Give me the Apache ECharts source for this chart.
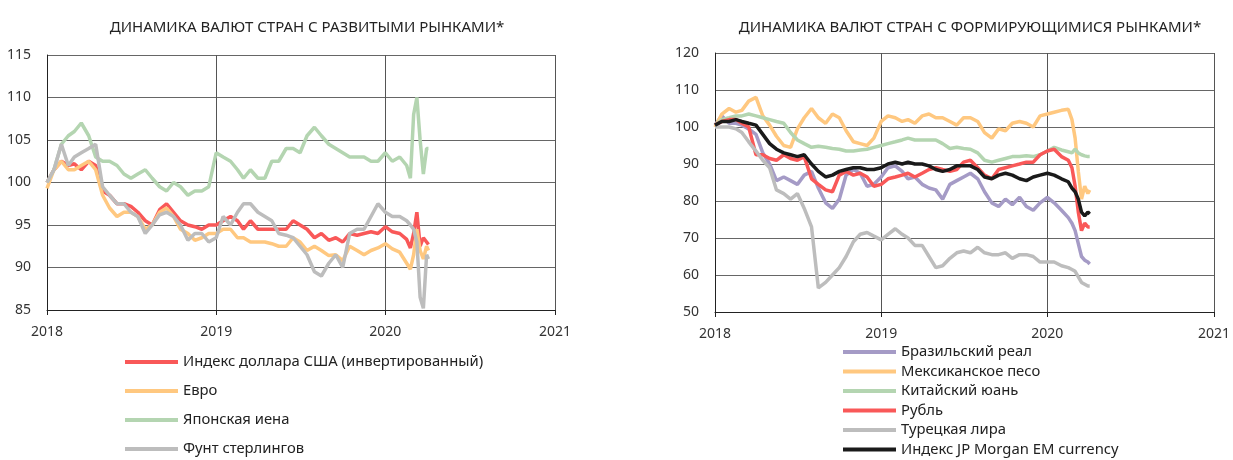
<!DOCTYPE html>
<html>
<head>
<meta charset="utf-8">
<script src="https://cdn.jsdelivr.net/npm/echarts@6/dist/echarts.min.js"></script>
<style>
  html, body { margin: 0; padding: 0; background: #fff; }
  #chart { width: 1233px; height: 460px; }
</style>
</head>
<body>
<div id="chart"></div>
<script>
// даты (полумесячные точки, чаще в феврале-апреле 2020)
var dates = [
  '2018-01-01','2018-01-16','2018-02-01','2018-02-16','2018-03-01','2018-03-16','2018-04-01','2018-04-16',
  '2018-05-01','2018-05-16','2018-06-01','2018-06-16','2018-07-01','2018-07-16','2018-08-01','2018-08-16',
  '2018-09-01','2018-09-16','2018-10-01','2018-10-16','2018-11-01','2018-11-16','2018-12-01','2018-12-16',
  '2019-01-01','2019-01-16','2019-02-01','2019-02-16','2019-03-01','2019-03-16','2019-04-01','2019-04-16',
  '2019-05-01','2019-05-16','2019-06-01','2019-06-16','2019-07-01','2019-07-16','2019-08-01','2019-08-16',
  '2019-09-01','2019-09-16','2019-10-01','2019-10-16','2019-11-01','2019-11-16','2019-12-01','2019-12-16',
  '2020-01-01','2020-01-16','2020-02-01','2020-02-16','2020-02-24','2020-03-02','2020-03-09','2020-03-16',
  '2020-03-23','2020-03-30','2020-04-03'
];
var yearTicks = ['2018', '2019', '2020', '2021'];

// развитые рынки
var usdInv = [100,101.5,102.5,102,102.2,101.5,102.5,102,99,98.5,97.5,97.5,97.2,96.5,95.5,95,
  96.8,97.5,96.5,95.5,95,94.8,94.5,95,95,95.5,96,95.5,94.5,95.5,94.5,94.5,
  94.5,94.5,94.5,95.5,95,94.5,93.5,94,93.2,93.5,93,94,93.8,94,94.2,94,
  94.8,94.2,94,93.3,92.3,94,96.5,92.5,93.5,93,92.7];
var eur = [99.3,101.5,102.5,101.5,101.5,102,102.5,101.5,98.5,97,96,96.5,96.5,96,94.5,95,
  96.5,97,96,94.5,94,93.2,93.5,94,94,94.5,94.5,93.5,93.5,93,93,93,
  92.8,92.5,92.5,93.5,93,92,92.5,92,91.4,91.5,90.8,92.5,92,91.5,92,92.3,
  92.8,92.2,91.8,90.5,89.8,91.5,94.5,92,91,92.5,92];
var jpy = [100,101.5,104.5,105.5,106,107,105.5,103,102.5,102.5,102,101,100.5,101,101.5,100.5,
  99.5,99,100,99.5,98.5,99,99,99.5,103.5,103,102.5,101.5,100.5,101.5,100.5,100.5,
  102.5,102.5,104,104,103.5,105.5,106.5,105.5,104.5,104,103.5,103,103,103,102.5,102.5,
  103.5,102.5,103,102,100.5,108,110,105,101,104,104];
var gbp = [100,101.5,104.5,102,103,103.5,104,104.5,99.5,98.5,97.5,97.5,96.5,96,94,95,
  96.2,96.5,96,95,93.2,94,94,93,93.5,96,95,96.5,97.5,97.5,96.5,96,
  95.5,94,93.8,93.5,92.5,91.5,89.5,89,90.5,91.5,90,94,94.5,94.5,96,97.5,
  96.5,96,96,95.5,95,94.5,93,86.5,85.2,91.5,91];

// формирующиеся рынки
var brl = [100.5,103,101,101,100.5,99.5,98,93,90,85.5,86.5,85.5,84.5,87,88,83.5,
  79.5,78,80.5,87,88.5,87.5,84,84.5,86.5,89,89.5,88,86,86.5,84.5,83.5,
  83,80.5,84.5,85.5,86.5,87.5,86,82.5,79.5,78.5,80.5,79,81,78.5,77.5,79.5,
  81,79.5,77.5,75.5,74,72,68.5,65,64,63.5,63];
var mxn = [100,103.5,105,104,104.5,107,108,103,100.5,97.5,95,94.5,99.5,102.5,105,102.5,
  101,103.5,102.5,99,96,95.5,95,97,101.5,103,102.5,101.5,102,101,103,103.5,
  102.5,102.5,101.5,100.5,102.5,102.5,101.5,98.5,97,99.5,99,101,101.5,101,100,103,
  103.5,104,104.5,104.8,102,97,88,80.5,84,82,83];
var cny = [100.5,102,102.5,103,103,103.5,103,102.5,102,101.5,101,98.5,96.5,95.5,94.5,94.8,
  94.5,94.2,94,93.5,93.5,93.8,94,94.5,95,95.5,96,96.5,97,96.5,96.5,96.5,
  96.5,95.5,94.2,94.5,94.2,94,93,91,90.5,91,91.5,92,92,92.2,92,92.5,
  93.5,94.5,93.8,93.3,93,94,93,92.5,92.2,92,92];
var rub = [100.5,101.5,102,102,101,100,92.5,92.5,91.5,91,92.5,91.5,91,92,86,84.5,
  83,82.5,87,88,87,87.5,86.5,84,84.5,86,86.5,87,87.5,86.5,87.5,88.5,
  89,88.5,88,88.5,90.5,91,89,87,86,88.5,89,89.5,90,90.5,90.5,92.5,
  93.5,94,92,91,89,84,77,72,74,73,73];
var tryLira = [100,100,100,99.5,98.5,96,93.5,91,89,83,82,80.5,82,78,73,56.5,
  58,60,62,65,69,71,71.5,70.5,69.5,71,72.5,71,70,68,68,65,
  62,62.5,64.5,66,66.5,66,67.5,66,65.5,65.5,66,64.5,65.5,65.5,65,63.5,
  63.5,63.5,62.5,62,61.5,61,59.5,58,57.5,57,57];
var jpmEm = [100.5,101.5,101.5,102,101.5,101,100.5,98,95.5,94,93,92.5,92,92.5,90,88,
  86.5,87,88,88.5,89,89,88.5,88.5,89,90,90.5,90,90.5,90,90,89.5,
  88.5,88,88.5,89.5,89.5,89.5,88.5,86.5,86,87,87.5,87,86,85.5,86.5,87,
  87.5,87,86,85.2,83.5,82.5,80.5,77,76,77,76.5];

var leftNames = ['Индекс доллара США (инвертированный)', 'Евро', 'Японская иена', 'Фунт стерлингов'];
var rightNames = ['Бразильский реал', 'Мексиканское песо', 'Китайский юань', 'Рубль', 'Турецкая лира', 'Индекс JP Morgan EM currency'];

var font = '"Noto Sans", sans-serif';

function pairs(arr) {
  return dates.map(function (d, i) { return [d, arr[i]]; });
}
function mkSeries(name, arr, color, idx) {
  return {
    name: name, type: 'line', xAxisIndex: idx, yAxisIndex: idx,
    data: pairs(arr), showSymbol: false, symbol: 'none', smooth: false,
    lineStyle: { color: color, width: 3.5 }, itemStyle: { color: color },
    emphasis: { disabled: true }, animation: false
  };
}
function mkX(idx) {
  return {
    type: 'time', gridIndex: idx,
    min: yearTicks[0] + '-01-01', max: yearTicks[3] + '-01-01', splitNumber: 3,
    axisLine: { lineStyle: { color: '#222', width: 1 } },
    axisTick: { show: true, length: 5, lineStyle: { color: '#222' } },
    axisLabel: { formatter: '{yyyy}', color: '#333', fontSize: 14, fontFamily: font, margin: 15,
                 showMinLabel: true, showMaxLabel: true, fontWeight: 'normal' },
    splitLine: { show: true, lineStyle: { color: '#555', width: 1 } }
  };
}
function mkY(idx, min, max, step) {
  return {
    type: 'value', gridIndex: idx, min: min, max: max, interval: step,
    axisLine: { show: true, lineStyle: { color: '#222', width: 1 } },
    axisTick: { show: false },
    axisLabel: { color: '#333', fontSize: 14, fontFamily: font, margin: 16 },
    splitLine: { show: true, lineStyle: { color: '#666', width: 1 } }
  };
}

var chart = echarts.init(document.getElementById('chart'));
chart.setOption({
  animation: false,
  backgroundColor: '#fff',
  title: [
    { text: 'ДИНАМИКА ВАЛЮТ СТРАН С РАЗВИТЫМИ РЫНКАМИ*', left: 302, top: 15, textAlign: 'center',
      textStyle: { fontSize: 15, fontWeight: 'normal', color: '#222', fontFamily: font } },
    { text: 'ДИНАМИКА ВАЛЮТ СТРАН С ФОРМИРУЮЩИМИСЯ РЫНКАМИ*', left: 965, top: 15, textAlign: 'center',
      textStyle: { fontSize: 15, fontWeight: 'normal', color: '#222', fontFamily: font } }
  ],
  grid: [
    { left: 47, top: 55, width: 508, height: 255 },
    { left: 715, top: 53, width: 500, height: 259 }
  ],
  xAxis: [mkX(0), mkX(1)],
  yAxis: [mkY(0, 85, 115, 5), mkY(1, 50, 120, 10)],
  legend: [
    { data: leftNames, orient: 'vertical', left: 125, top: 354, height: 110, padding: 0,
      itemWidth: 53, itemHeight: 4, itemGap: 13, icon: 'rect', selectedMode: false,
      textStyle: { fontSize: 14.8, color: '#222', fontFamily: font, lineHeight: 16 } },
    { data: rightNames, orient: 'vertical', left: 843, top: 344, height: 120, padding: 0,
      itemWidth: 53, itemHeight: 4, itemGap: 3.5, icon: 'rect', selectedMode: false,
      textStyle: { fontSize: 14.8, color: '#222', fontFamily: font, lineHeight: 16 } }
  ],
  series: [
    mkSeries(leftNames[0], usdInv, '#f95858', 0),
    mkSeries(leftNames[1], eur, '#ffc880', 0),
    mkSeries(leftNames[2], jpy, '#b4d5b1', 0),
    mkSeries(leftNames[3], gbp, '#bdbdbd', 0),
    mkSeries(rightNames[0], brl, '#a59bc6', 1),
    mkSeries(rightNames[1], mxn, '#ffc880', 1),
    mkSeries(rightNames[2], cny, '#b4d5b1', 1),
    mkSeries(rightNames[3], rub, '#f95858', 1),
    mkSeries(rightNames[4], tryLira, '#bdbdbd', 1),
    mkSeries(rightNames[5], jpmEm, '#1a1a1a', 1)
  ]
});
</script>
</body>
</html>
